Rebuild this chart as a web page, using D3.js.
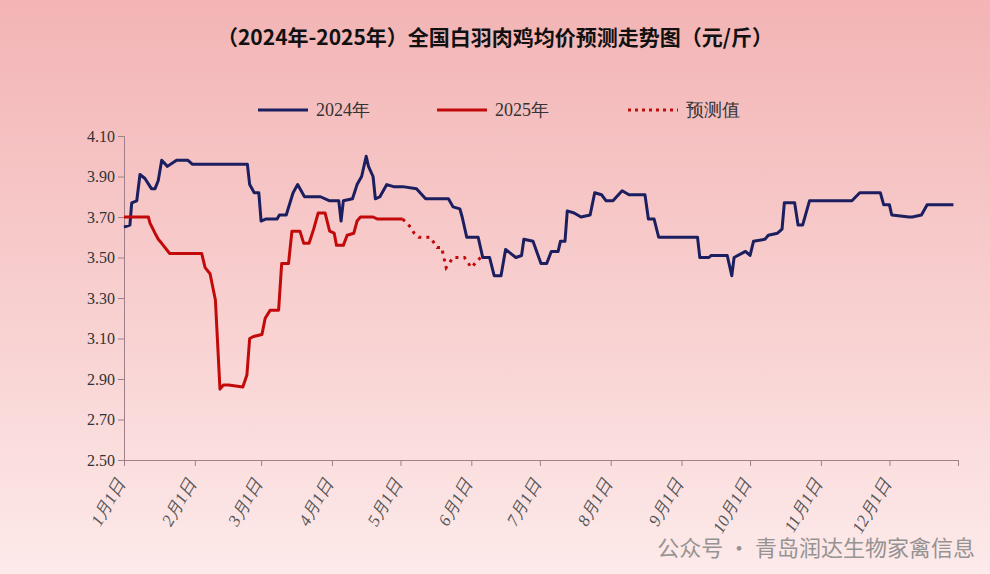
<!DOCTYPE html>
<html><head><meta charset="utf-8">
<script src="https://cdn.jsdelivr.net/npm/d3@7"></script>
<style>body{margin:0;}svg{display:block;}</style>
</head><body>
<script>
// [day of year, price]
const series2024 = [[0,3.65],[2.6,3.66],[3.4,3.77],[5.6,3.78],[7,3.91],[9.2,3.89],[12,3.84],[13.6,3.84],[15,3.88],[16.5,3.98],[19,3.95],[23,3.98],[28,3.98],[30,3.96],[48,3.96],[54,3.96],[55,3.86],[57,3.82],[59,3.82],[60,3.68],[62,3.69],[67,3.69],[68,3.71],[71,3.71],[74,3.82],[76,3.86],[79,3.80],[86,3.80],[90,3.78],[94,3.78],[95,3.68],[96,3.78],[100,3.79],[102,3.86],[104,3.90],[106,4.00],[107,3.95],[109,3.90],[110,3.79],[112,3.80],[115,3.86],[118,3.85],[122,3.85],[128,3.84],[132,3.79],[142,3.79],[144,3.75],[147,3.74],[148,3.70],[150,3.60],[155,3.60],[157,3.50],[160,3.50],[162,3.41],[165,3.41],[167,3.54],[171.5,3.50],[174,3.51],[175,3.59],[179,3.58],[182.5,3.47],[185,3.47],[187,3.53],[190,3.53],[191,3.58],[193,3.58],[194,3.73],[197,3.72],[200,3.70],[204,3.71],[206,3.82],[209,3.81],[211,3.78],[214,3.78],[218,3.83],[221,3.81],[228,3.81],[229.5,3.69],[232,3.69],[234,3.60],[248,3.60],[251,3.60],[252,3.50],[256,3.50],[257,3.51],[264,3.51],[266,3.41],[267,3.50],[272,3.53],[274,3.51],[275.5,3.58],[280.5,3.59],[282,3.61],[286,3.62],[288,3.64],[289,3.77],[293.5,3.77],[295,3.66],[297,3.66],[300,3.78],[318.6,3.78],[322,3.82],[331,3.82],[332.5,3.76],[335,3.76],[336,3.71],[343.6,3.70],[345,3.70],[349,3.71],[351.5,3.76],[363,3.76]];
const series2025 = [[0,3.70],[10.7,3.70],[11.4,3.67],[13.6,3.62],[15,3.59],[16.5,3.57],[20,3.52],[34,3.52],[35.5,3.45],[37.7,3.42],[40,3.29],[42,2.85],[43.5,2.87],[45.8,2.87],[52,2.86],[53.8,2.92],[55,3.10],[56.7,3.11],[60.4,3.12],[61.8,3.20],[64,3.24],[67.7,3.24],[69,3.47],[72,3.47],[73.5,3.63],[77,3.63],[78.7,3.57],[81,3.57],[83,3.64],[85,3.72],[88,3.72],[90,3.63],[92,3.62],[93,3.56],[96,3.56],[97.7,3.61],[100.6,3.62],[102,3.68],[103.5,3.70],[109,3.70],[111,3.69],[122,3.69]];
const forecast = [[122,3.69],[125.4,3.65],[127,3.62],[129,3.60],[134,3.60],[137,3.55],[139,3.55],[141,3.45],[144,3.50],[149,3.50],[152,3.45],[156,3.50]];
const yTicks = [2.50,2.70,2.90,3.10,3.30,3.50,3.70,3.90,4.10];
const monthLabels = ["1月1日","2月1日","3月1日","4月1日","5月1日","6月1日","7月1日","8月1日","9月1日","10月1日","11月1日","12月1日"];
const legendNames = ["2024年","2025年","预测值"];

const W = 990, H = 574;
const svg = d3.select("body").append("svg").attr("width", W).attr("height", H);
const defs = svg.append("defs");
const grad = defs.append("linearGradient").attr("id","bg").attr("x1",0).attr("y1",0).attr("x2",0).attr("y2",1);
grad.append("stop").attr("offset","0%").attr("stop-color","#f3b4b5");
grad.append("stop").attr("offset","60%").attr("stop-color","#f9d3d3");
grad.append("stop").attr("offset","100%").attr("stop-color","#fdeaea");
svg.append("rect").attr("width",W).attr("height",H).attr("fill","url(#bg)");

const base = new Date(2024,0,1);
const toDate = d => d3.timeHour.offset(base, d*24);
const x = d3.scaleTime().domain([base, new Date(2024,11,31)]).range([124, 958]);
const y = d3.scaleLinear().domain([2.5, 4.1]).range([460, 136]);
const serif = "'Liberation Serif','DejaVu Serif',serif";
const axisColor = "#a08088";

svg.append("text").attr("x", W/2).attr("y", 45).attr("text-anchor","middle")
  .style("font", "bold 21px 'Noto Sans CJK SC'").attr("fill","#111")
  .text("（2024年-2025年）全国白羽肉鸡均价预测走势图（元/斤）");

// y axis
const ya = svg.append("g").attr("transform","translate(124,0)")
  .call(d3.axisLeft(y).tickValues(yTicks).tickFormat(d3.format(".2f")).tickSize(6));
ya.selectAll("text").style("font", `16px ${serif}`).attr("fill","#333");
ya.selectAll("line,path").attr("stroke", axisColor);

// x axis
const ticks = d3.range(12).map(m => new Date(2024, m, 1)).concat([new Date(2024,11,31)]);
const xa = svg.append("g").attr("transform","translate(0,460)")
  .call(d3.axisBottom(x).tickValues(ticks).tickSize(6).tickFormat((d,i) => monthLabels[i] || ""));
xa.selectAll("line,path").attr("stroke", axisColor);
xa.selectAll(".tick text").style("font", `italic 17px ${serif}`).attr("fill","#555")
  .attr("text-anchor","end").attr("x",0).attr("y",0).attr("dy","0.35em")
  .attr("transform", "translate(-4,20) rotate(-60)");

const line = d3.line().x(d => x(toDate(d[0]))).y(d => y(d[1])).curve(d3.curveLinear);
svg.append("path").datum(series2024).attr("d", line).attr("fill","none")
  .attr("stroke","#1c1f5f").attr("stroke-width",3).attr("stroke-linejoin","round");
svg.append("path").datum(series2025).attr("d", line).attr("fill","none")
  .attr("stroke","#c20a0a").attr("stroke-width",3).attr("stroke-linejoin","round");
svg.append("path").datum(forecast).attr("d", line).attr("fill","none")
  .attr("stroke","#c20a0a").attr("stroke-width",3).attr("stroke-dasharray","3,5");

// legend
const lg = svg.append("g").attr("transform","translate(0,110)");
const lx = [258, 437, 628];
legendNames.forEach((n,i) => {
  lg.append("line").attr("x1",lx[i]).attr("x2",lx[i]+50).attr("y1",0).attr("y2",0)
    .attr("stroke", i===0 ? "#1c1f5f" : "#c20a0a").attr("stroke-width",3)
    .attr("stroke-dasharray", i===2 ? "3,4" : null);
  lg.append("text").attr("x",lx[i]+58).attr("y",6).style("font", `18px ${serif}`)
    .attr("fill","#333").text(n);
});

svg.append("text").attr("x",975).attr("y",556).attr("text-anchor","end")
  .style("font","22px 'Noto Sans CJK SC'").attr("fill","#8a8a8a").attr("opacity",0.9)
  .text("公众号 · 青岛润达生物家禽信息");
</script>
</body></html>
